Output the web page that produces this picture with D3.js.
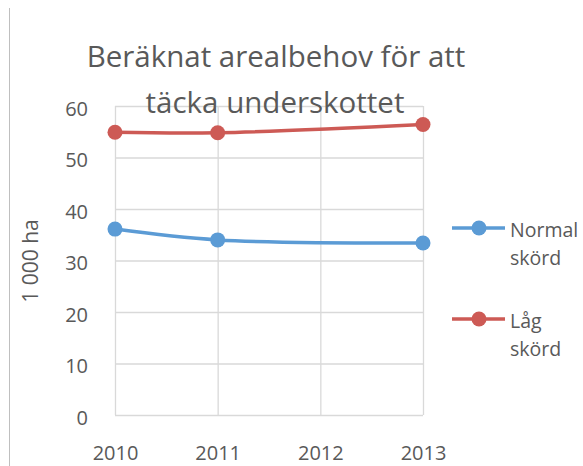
<!DOCTYPE html>
<html>
<head>
<meta charset="utf-8">
<script src="https://cdn.jsdelivr.net/npm/d3@7"></script>
<style>
  html, body { margin: 0; padding: 0; background: #fff; }
  svg { display: block; }
  text { font-family: "Open Sans", sans-serif; fill: #595959; }
</style>
</head>
<body>
<svg id="chart" width="583" height="466"></svg>
<script>
const years = ["2010", "2011", "2012", "2013"];
const normalSkord = [36.1, 34.0, null, 33.4];
const lagSkord = [54.9, 54.8, null, 56.4];
const yTicks = [0, 10, 20, 30, 40, 50, 60];
const titleLines = ["Beräknat arealbehov för att", "täcka underskottet"];
const yTitle = "1 000 ha";
const seriesNames = [["Normal", "skörd"], ["Låg", "skörd"]];
const seriesColors = ["#5B9BD5", "#CD5A55"];

(function () {
const svg = d3.select("#chart");
const W = 583, H = 466;
const pL = 115, pR = 423, pT = 106, pB = 415;

const x = d3.scalePoint().domain(years).range([pL, pR]);
const y = d3.scaleLinear().domain([0, 60]).range([pB, pT]);

// outer left border
svg.append("line").attr("x1", 9.5).attr("x2", 9.5).attr("y1", 8).attr("y2", H)
  .attr("stroke", "#BFBFBF").attr("stroke-width", 1);

// horizontal grid
const gy = svg.append("g").attr("transform", `translate(${pL},0)`)
  .call(d3.axisLeft(y).tickValues(yTicks).tickSize(-(pR - pL)).tickFormat(""));
gy.select(".domain").remove();
gy.selectAll("line").attr("stroke", "#D9D9D9").attr("stroke-width", 1.3);

// vertical grid
const gx = svg.append("g").attr("transform", `translate(0,${pB})`)
  .call(d3.axisBottom(x).tickSize(-(pB - pT)).tickFormat(""));
gx.select(".domain").remove();
gx.selectAll("line").attr("stroke", "#D9D9D9").attr("stroke-width", 1.3);

// y tick labels
const yl = svg.append("g").attr("transform", `translate(${pL},0)`)
  .call(d3.axisLeft(y).tickValues(yTicks).tickSize(0).tickPadding(27));
yl.select(".domain").remove();
yl.selectAll("text").attr("font-size", 20).attr("fill", "#595959").attr("dy", "0.45em")
  .style("font-family", "'Open Sans', sans-serif");

// x tick labels
const xl = svg.append("g").attr("transform", `translate(0,${pB})`)
  .call(d3.axisBottom(x).tickSize(0).tickPadding(31));
xl.select(".domain").remove();
xl.selectAll("text").attr("font-size", 20).attr("fill", "#595959")
  .style("font-family", "'Open Sans', sans-serif");

// y axis title
svg.append("text").attr("transform", `translate(38,261) rotate(-90)`)
  .attr("text-anchor", "middle").attr("font-size", 21).text(yTitle);

// title
svg.append("text").attr("x", 276).attr("y", 67).attr("text-anchor", "middle")
  .attr("font-size", 29.5).text(titleLines[0]);
svg.append("text").attr("x", 275).attr("y", 113).attr("text-anchor", "middle")
  .attr("font-size", 29.5).text(titleLines[1]);

// series
const allSeries = [normalSkord, lagSkord];
const line = d3.line().x(d => x(d.year)).y(d => y(d.v)).curve(d3.curveCatmullRom.alpha(0.5));
allSeries.forEach((vals, i) => {
  const pts = years.map((yr, j) => ({ year: yr, v: vals[j] })).filter(d => d.v != null);
  svg.append("path").datum(pts).attr("d", line).attr("fill", "none")
    .attr("stroke", seriesColors[i]).attr("stroke-width", 3.5).attr("stroke-linecap", "round");
  svg.selectAll(null).data(pts).enter().append("circle")
    .attr("cx", d => x(d.year)).attr("cy", d => y(d.v)).attr("r", 7.5)
    .attr("fill", seriesColors[i]);
});

// legend
const legY = [228, 319];
seriesNames.forEach((nm, i) => {
  const g = svg.append("g");
  g.append("line").attr("x1", 452).attr("x2", 505).attr("y1", legY[i]).attr("y2", legY[i])
    .attr("stroke", seriesColors[i]).attr("stroke-width", 3.5);
  g.append("circle").attr("cx", 479).attr("cy", legY[i]).attr("r", 7.5).attr("fill", seriesColors[i]);
  nm.forEach((t, k) => {
    g.append("text").attr("x", 510).attr("y", legY[i] + 9 + k * 28).attr("font-size", 19.5).text(t);
  });
});
})();
</script>
</body>
</html>
